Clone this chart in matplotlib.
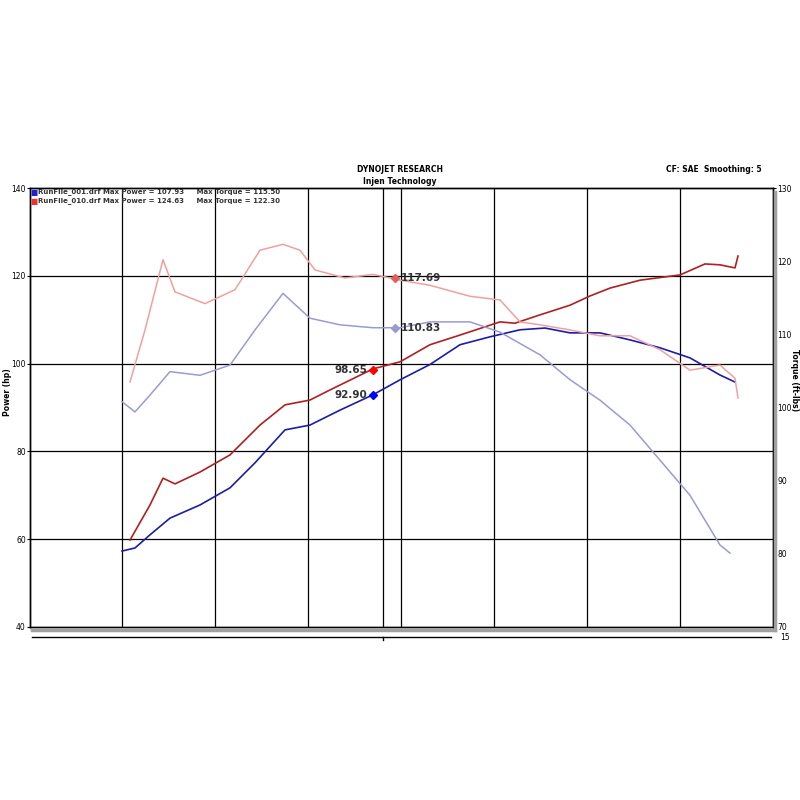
import matplotlib
matplotlib.use("Agg")
import matplotlib.pyplot as plt

# x values (engine speed, arbitrary units matching reference grid)
x_blue_pw = [122,135,150,170,200,230,255,285,310,340,373,400,430,460,490,520,545,570,600,630,660,690,720,735]
hp_blue = [57.3,58.0,61.0,64.8,67.8,71.7,77.4,84.9,86.0,89.4,92.9,96.3,99.8,104.3,106.1,107.7,108.1,107.0,107.0,105.4,103.6,101.3,97.4,95.8]
x_red_pw = [130,150,163,175,200,230,260,285,310,330,373,400,430,460,500,515,540,570,590,610,640,680,705,720,735,738]
hp_red = [59.8,67.8,73.9,72.6,75.3,79.2,86.0,90.6,91.7,94.0,98.8,100.4,104.3,106.5,109.5,109.2,111.1,113.3,115.4,117.2,119.0,120.2,122.7,122.5,121.8,124.5]
x_blue_tq = [122,135,150,170,200,230,255,283,310,340,373,400,430,470,500,540,570,600,630,660,690,720,730]
tq_blue = [100.8,99.4,101.7,104.9,104.4,105.8,110.6,115.6,112.2,111.3,110.9,110.9,111.7,111.7,110.3,107.2,103.8,101.0,97.6,92.8,88.0,81.2,80.1]
x_red_tq = [130,145,163,175,205,235,260,283,300,315,345,373,400,430,470,500,520,540,570,600,630,660,690,720,735,738]
tq_red = [103.5,110.6,120.2,115.8,114.2,116.1,121.5,122.3,121.5,118.8,117.7,118.2,117.4,116.7,115.2,114.7,111.7,111.3,110.6,109.8,109.8,107.9,105.1,105.8,104.0,101.3]
grid_x = [122,215,308,383,401,494,587,680]
legend_lines = ["RunFile_001.drf Max Power = 107.93     Max Torque = 115.50",
                "RunFile_010.drf Max Power = 124.63     Max Torque = 122.30"]

C_DB, C_DR, C_LB, C_LR = "#1c1ca8", "#b02020", "#9a9ad8", "#f0a0a0"

fig = plt.figure(figsize=(8, 8), dpi=100)
ax = fig.add_axes([30/800, 173/800, 743/800, 439/800])
ax2 = ax.twinx()
ax.set_xlim(30, 773)
ax.set_ylim(40, 140)
ax2.set_ylim(70, 130)
ax.set_yticks([40,60,80,100,120,140])
ax2.set_yticks([70,80,90,100,110,120,130])
ax.set_xticks([])
for a in (ax, ax2):
    a.tick_params(labelsize=5.5, length=2, pad=1)
    for s in a.spines.values():
        s.set_linewidth(1.0)
fig.text(7/800, 1-392/800, "Power (hp)", fontsize=5.5, fontweight="bold", rotation=90, ha="center", va="center")
fig.text(795/800, 1-380/800, "Torque (ft-lbs)", fontsize=5.5, fontweight="bold", rotation=270, ha="center", va="center")
for g in [60,80,100,120]:
    ax.axhline(g, color="black", lw=0.9)
for g in grid_x:
    ax.axvline(g, color="black", lw=0.9)

ax2.plot(x_blue_tq, tq_blue, color=C_LB, lw=1.1)
ax2.plot(x_red_tq, tq_red, color=C_LR, lw=1.1)
ax.plot(x_blue_pw, hp_blue, color=C_DB, lw=1.2)
ax.plot(x_red_pw, hp_red, color=C_DR, lw=1.2)

ax.plot([373], [98.65], marker="D", color="red", ms=4)
ax.plot([373], [92.90], marker="D", color="blue", ms=4)
ax2.plot([395], [110.83], marker="D", color=C_LB, ms=4)
ax2.plot([395], [117.69], marker="D", color="#e06060", ms=4)
ax.text(367, 98.65, "98.65", ha="right", va="center", fontsize=7.5, fontweight="bold", color="#333333")
ax.text(367, 92.90, "92.90", ha="right", va="center", fontsize=7.5, fontweight="bold", color="#333333")
ax2.text(401, 110.83, "110.83", ha="left", va="center", fontsize=7.5, fontweight="bold", color="#333333")
ax2.text(401, 117.69, "117.69", ha="left", va="center", fontsize=7.5, fontweight="bold", color="#333333")

# legend
for i, (t, c) in enumerate(zip(legend_lines, ["#2020d0", "#ee3030"])):
    yy = 1 - (4 + 9*i)/439
    ax.text(0.0, yy, "\u25A0", transform=ax.transAxes, color=c, fontsize=5.5, va="center")
    ax.text(0.011, yy, t, transform=ax.transAxes, fontsize=5, fontweight="bold", va="center", color="#333333")

fig.text(400/800, 1-170/800, "DYNOJET RESEARCH", ha="center", va="center", fontsize=5.5, fontweight="bold")
fig.text(400/800, 1-181/800, "Injen Technology", ha="center", va="center", fontsize=5.5, fontweight="bold")
fig.text(762/800, 1-169/800, "CF: SAE  Smoothing: 5", ha="right", va="center", fontsize=5.5, fontweight="bold")

# secondary bottom axis line
fig.add_artist(plt.Line2D([32/800, 771/800], [1-637/800]*2, color="black", lw=1))
fig.add_artist(plt.Line2D([383/800]*2, [1-637/800, 1-640/800], color="black", lw=1))
fig.text(780/800, 1-638/800, "15", fontsize=5.5, va="center")
# shadow
fig.add_artist(plt.Line2D([32/800, 775/800], [1-630/800]*2, color="#a0a0a0", lw=2.5))
fig.add_artist(plt.Line2D([775/800]*2, [1-630/800, 1-192/800], color="#a0a0a0", lw=2.5))

fig.savefig("out.png", dpi=100)
